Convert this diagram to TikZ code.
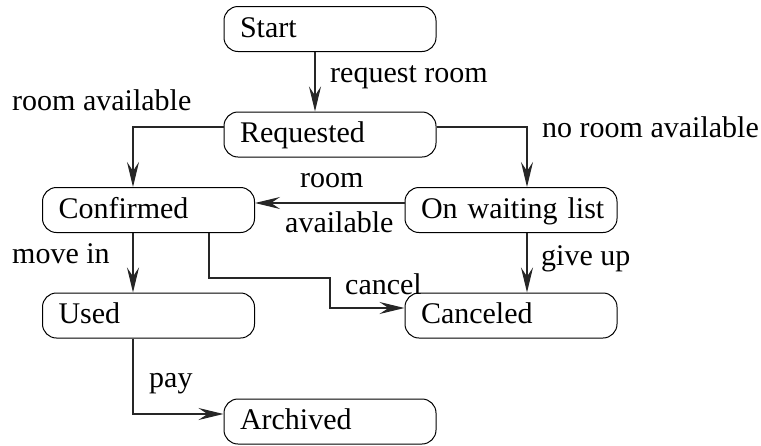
\documentclass[tikz,border=0pt]{standalone}
\usepackage{fontspec}
\setmainfont{Liberation Serif}
\usetikzlibrary{arrows.meta}
\begin{document}
\begin{tikzpicture}[x=1pt,y=-1pt,
  every node/.style={font=\fontsize{30}{36}\selectfont},
  state/.style={draw=black, line width=1pt, rounded corners=14pt,
    text width=180pt, inner xsep=16pt, inner ysep=0pt, align=left,
    minimum height=45pt, text height=20pt, text depth=4pt},
  lbl/.style={anchor=base west, inner sep=0pt},
  arr/.style={draw=black!85, line width=1.1pt,
    -{Stealth[length=25pt,width=12pt,inset=9pt]}}]
\useasboundingbox (0,0) rectangle (761,445);

\node[state] (start) at (330,29)    {\mbox{Start}};
\node[state] (req)   at (330,134.5) {\mbox{Requested}};
\node[state] (conf)  at (148.5,210) {\mbox{Confirmed}};
\node[state] (wait)  at (511,210)   {\mbox{On waiting list}};
\node[state] (used)  at (148.5,315.5) {\mbox{Used}};
\node[state] (canc)  at (511,315.5) {\mbox{Canceled}};
\node[state] (arch)  at (330,421.5) {\mbox{Archived}};

\coordinate (cbend) at (330,278);

\draw[arr] ([xshift=-15pt]start.south) -- ([xshift=-15pt]req.north);
\draw[arr] ([yshift=7.5pt]req.west) -| ([xshift=-15.5pt]conf.north);
\draw[arr] ([yshift=7.5pt]req.east) -| ([xshift=16pt]wait.north);
\draw[arr] ([yshift=7pt]wait.west) -- ([yshift=7pt]conf.east);
\draw[arr] ([xshift=-15.5pt]conf.south) -- ([xshift=-15.5pt]used.north);
\draw[arr] ([xshift=16pt]wait.south) -- ([xshift=16pt]canc.north);
\draw[arr] ([xshift=60.5pt]conf.south) |- (cbend) |- ([yshift=7.5pt]canc.west);
\draw[arr] ([xshift=-15.5pt]used.south) |- ([yshift=7.5pt]arch.west);

\node[lbl] (lreq)    at (330,82)  {request room};
\node[lbl] (lravail) at (12,110)  {room available};
\node[lbl] (lnoroom) at (542,137) {no room available};
\node[lbl] (lroom)   at (300,187) {room};
\node[lbl] (lavail)  at (285,232) {available};
\node[lbl] (lmove)   at (12,263)  {move in};
\node[lbl] (lgive)   at (541,265) {give up};
\node[lbl] (lcancel) at (345,294) {cancel};
\node[lbl] (lpay)    at (149,387) {pay};
\end{tikzpicture}
\end{document}
